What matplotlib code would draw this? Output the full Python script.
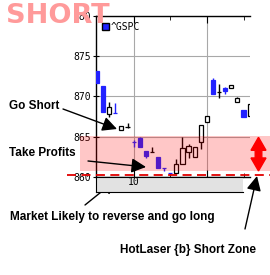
import matplotlib.pyplot as plt
from matplotlib.patches import Rectangle, Polygon, Patch
from matplotlib.transforms import blended_transform_factory

# 5-minute bars of ^GSPC from 9:30 (minutes after 9:30)
minutes = [0, 5, 10, 15, 20, 25, 30, 35, 40, 45, 50, 55, 60,
           65, 70, 75, 80, 85, 90, 95, 100, 105, 110, 115, 120, 125]
opens = [873.2, 871.35, 867.8, 868.0, 865.84, 866.25, 864.38, 864.81, 863.23, 863.14,
         862.52, 861.14, 860.52, 860.46, 861.58, 863.14, 862.52, 864.31, 866.8, 872.05,
         870.6, 871.09, 871.02, 869.28, 868.32, 867.58]
highs = [873.2, 871.35, 869.28, 869.2, 866.37, 866.67, 864.6, 865.0, 863.23, 863.69,
         862.52, 861.14, 860.52, 862.24, 865.0, 864.1, 863.69, 866.46, 867.58, 872.34,
         871.55, 871.2, 871.43, 869.9, 868.32, 869.03]
lows = [871.7, 868.1, 867.49, 867.97, 865.84, 866.05, 863.76, 863.76, 862.4, 863.07,
        861.16, 860.71, 860.48, 860.46, 861.58, 862.32, 862.52, 863.42, 866.8, 870.27,
        869.78, 870.27, 871.02, 869.28, 867.49, 867.58]
closes = [871.7, 868.1, 868.75, 867.97, 866.37, 866.25, 864.32, 863.76, 862.65, 863.14,
          861.16, 861.1, 860.48, 861.61, 863.57, 863.85, 863.69, 866.46, 867.58, 870.27,
          870.6, 870.72, 871.43, 869.78, 867.49, 869.03]

y_ticks = [860, 865, 870, 875, 880]
zone_top, zone_bottom = 865.13, 860.75
reverse_level = 860.25

BLUE = '#2222ff'
W, H = 270, 275

fig = plt.figure(figsize=(W / 100, H / 100), dpi=100)
ax = fig.add_axes([96 / W, 1 - 177 / H, 154 / W, 161 / H])

# candles
for m, o, h, l, c in zip(minutes, opens, highs, lows, closes):
    if c > o:
        face, edge = 'white', 'black'
    elif c < o:
        face, edge = BLUE, BLUE
    else:
        face, edge = 'black', 'black'
    ax.vlines(m, l, h, color=edge, lw=1, zorder=2)
    ax.bar(m, max(abs(c - o), 0.02), bottom=min(o, c), width=3.4,
           color=face, edgecolor=edge, linewidth=0.9, zorder=3)

ax.set_xlim(-0.8, 125.3)
ax.set_ylim(860, 880)
ax.set_yticks(y_ticks)
ax.set_yticklabels([str(v) for v in y_ticks], family='DejaVu Sans Mono', fontsize=7)
ax.set_xticks([30, 90])
ax.set_xticks([60, 120], minor=True)
ax.set_xticklabels([])
ax.tick_params(axis='y', direction='inout', length=5, pad=1)
ax.tick_params(axis='x', which='both', direction='in', top=True, length=3)
ax.tick_params(axis='x', which='major', length=5)
ax.grid(True, which='major', color='#a8a8a8', lw=0.8, zorder=1)
ax.spines['right'].set_visible(False)
for s in ['left', 'top', 'bottom']:
    ax.spines[s].set_linewidth(1)

ax.legend(handles=[Patch(facecolor=BLUE, edgecolor='black', label='^GSPC')],
          loc='upper left', frameon=False, handlelength=0.7, handleheight=0.7,
          handletextpad=0.2, borderaxespad=0.2, prop={'family': 'DejaVu Sans Mono', 'size': 7})

# time strip under the chart
strip = fig.add_axes([96 / W, 1 - 192 / H, 147 / W, 15 / H])
strip.set_facecolor('#e2e2e2')
strip.set_xlim(-0.8, -0.8 + 147 / 1.22)
strip.set_ylim(0, 1)
strip.set_yticks([])
strip.set_xticks([30])
strip.set_xticklabels(['10'], family='DejaVu Sans Mono', fontsize=7)
strip.tick_params(axis='x', length=0, pad=-11)
strip.spines['right'].set_visible(False)

# short zone band and reverse line
tr = blended_transform_factory(fig.transFigure, ax.transData)
ax.add_patch(Rectangle((80 / W, zone_bottom), 190 / W, zone_top - zone_bottom,
                       transform=tr, facecolor='#ff0000', alpha=0.22,
                       edgecolor='none', clip_on=False, zorder=4))
ax.plot([67 / W, 1], [reverse_level, reverse_level], transform=tr, color='#e00000',
        lw=1.3, ls=(0, (5, 3)), clip_on=False, zorder=5)

# red double arrow
cx, hw, sw = 258.5, 7.5, 3.3
hl = 13 / 8.05
pts = [(cx, zone_top - 0.2), (cx + hw, zone_top - 0.2 - hl), (cx + sw, zone_top - 0.2 - hl),
       (cx + sw, zone_bottom + hl), (cx + hw, zone_bottom + hl), (cx, zone_bottom),
       (cx - hw, zone_bottom + hl), (cx - sw, zone_bottom + hl),
       (cx - sw, zone_top - 0.2 - hl), (cx - hw, zone_top - 0.2 - hl)]
ax.add_patch(Polygon([(x / W, y) for x, y in pts], closed=True, transform=tr,
                     facecolor='#ff0000', edgecolor='#ff0000', clip_on=False, zorder=6))

# texts and arrows (figure pixels, y measured from top)
fig.text(6 / W, 1 - 23 / H, 'SHORT', color='#ff9a9a', fontsize=19.5,
         fontweight='bold', family='DejaVu Sans', va='baseline', zorder=0)

lab = dict(fontsize=8.5, fontweight='bold', family='Liberation Sans', va='center')
arrow = dict(arrowstyle='-|>', mutation_scale=22, lw=1, color='black',
             shrinkA=0, shrinkB=0)


def note(text, tx, ty, start, end):
    fig.text(tx / W, 1 - ty / H, text, **lab)
    ax.annotate('', xy=(end[0], H - end[1]), xycoords='figure pixels',
                xytext=(start[0], H - start[1]), textcoords='figure pixels',
                arrowprops=arrow, annotation_clip=False, zorder=7)


note('Go Short', 9, 106, (63, 109), (117, 129))
note('Take Profits', 9, 153, (88, 161), (146, 167))
note('Market Likely to reverse and go long', 10, 217, (85, 205), (116, 180))
note('HotLaser {b} Short Zone', 120, 250, (245, 229), (257, 176))

fig.savefig('out.png', dpi=100)
